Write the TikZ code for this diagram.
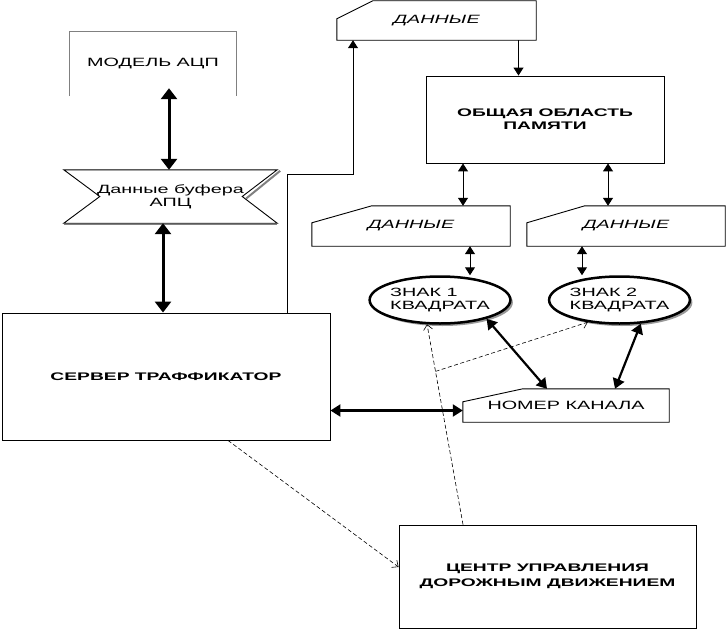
\documentclass[tikz,border=0pt]{standalone}
\usepackage{fontspec}
\setmainfont{Liberation Sans}
\newfontfamily\lblfont[FakeStretch=1.65]{Liberation Sans}
\newfontfamily\ttlfont[FakeStretch=1.75]{Liberation Sans Bold}
\usetikzlibrary{arrows.meta,shapes.geometric,shadows}
% outline of a data block with a cut corner
\newcommand\dataedge[3]{\draw[line width=0.9pt] (#1.south west) -- (#1.south east) -- (#1.north east)
  -- ([xshift=#2]#1.north west) -- ([yshift=-#3]#1.north west) -- cycle;}

\begin{document}
\begin{tikzpicture}[x=1pt, y=-1pt,  % сервер траффикатор
  lbl/.style={font=\lblfont\fontsize{12}{13}\selectfont, align=center, inner sep=0pt},
  dat/.style={lbl, font=\lblfont\itshape\fontsize{12}{13}\selectfont},
  ttl/.style={font=\ttlfont\fontsize{11}{13}\selectfont, align=center, inner sep=0pt, draw, line width=0.9pt},
  ell/.style={ellipse, draw, line width=2.5pt, fill=white, minimum width=122pt, minimum height=47pt,
    inner sep=0pt, align=left, font=\lblfont\fontsize{12}{13}\selectfont,
    drop shadow={shadow xshift=2.5pt, shadow yshift=-2.5pt, fill=gray, opacity=0.8}},
  bigarr/.style={line width=3pt, {Triangle[width=16pt,length=11pt]}-{Triangle[width=16pt,length=11pt]}},
  medarr/.style={line width=2.2pt, {Triangle[width=12pt,length=10pt]}-{Triangle[width=12pt,length=10pt]}},
  thinarr/.style={line width=1pt, -{Triangle[width=10pt,length=8pt]}},
  thinboth/.style={line width=1pt, {Triangle[width=10pt,length=8pt]}-{Triangle[width=10pt,length=8pt]}},
  dasharr/.style={line width=0.6pt, dash pattern=on 4pt off 2.5pt, -{Straight Barb[length=5pt,width=9pt]}}]
  \useasboundingbox (0,0) rectangle (726,629);

  \node[lbl, minimum width=166pt, minimum height=64pt] (model) at (153,64) {МОДЕЛЬ АЦП};
  \draw[gray, line width=0.8pt] (model.south west) -- (model.north west) -- (model.north east) -- (model.south east);

  \node[lbl, minimum width=213pt, minimum height=53pt] (buf) at (170.5,196.5) {Данные буфера\\АПЦ};
  \draw[gray, line width=2pt] ([xshift=-31pt,yshift=-2pt]buf.east) -- ([xshift=3pt,yshift=-1pt]buf.north east);
  \draw[gray, line width=1.2pt] ([yshift=-1.5pt]buf.south west) -- ([yshift=-1.5pt]buf.south east);
  \draw[line width=0.9pt] (buf.north west) -- (buf.north east) -- ([xshift=-35pt]buf.east) -- (buf.south east)
    -- (buf.south west) -- ([xshift=36pt]buf.west) -- cycle;

  \node[ttl, minimum width=328pt, minimum height=127pt] (srv) at (166,376.5) {СЕРВЕР ТРАФФИКАТОР};

  \node[dat, minimum width=199pt, minimum height=39pt] (dtop) at (436.5,20.5) {ДАННЫЕ};
  \dataedge{dtop}{36pt}{18pt}
  \node[ttl, minimum width=238pt, minimum height=87pt] (mem) at (545,119.5) {ОБЩАЯ ОБЛАСТЬ\\ПАМЯТИ};
  \node[dat, minimum width=198pt, minimum height=40pt] (dl) at (411,226) {ДАННЫЕ};
  \dataedge{dl}{60pt}{17pt}
  \node[dat, minimum width=198pt, minimum height=40pt] (dr) at (626,226) {ДАННЫЕ};
  \dataedge{dr}{58pt}{17pt}

  \node[ell] (e1) at (440,300) {ЗНАК 1\\КВАДРАТА};
  \node[ell] (e2) at (619.5,300) {ЗНАК 2\\КВАДРАТА};

  \node[lbl, minimum width=206pt, minimum height=33pt] (chan) at (566,405.5) {НОМЕР КАНАЛА};
  \dataedge{chan}{60pt}{13pt}

  \node[ttl, font=\ttlfont\fontsize{11}{15}\selectfont, minimum width=297pt, minimum height=103pt] (ctr)
    at (547.5,576.5) {ЦЕНТР УПРАВЛЕНИЯ\\ДОРОЖНЫМ ДВИЖЕНИЕМ};

  \draw[bigarr] ([xshift=16pt,yshift=8pt]model.south) -- ([xshift=-1.5pt]buf.north);
  \draw[bigarr] ([xshift=-7.5pt]buf.south) -- ([xshift=-3pt]srv.north);
  \draw[thinarr] ([xshift=121pt]srv.north) -- ++(0,-138) -| ([xshift=-83.5pt]dtop.south);
  \draw[thinarr] ([xshift=82pt]dtop.south) -- ([xshift=-26.5pt]mem.north);
  \draw[thinboth] ([xshift=-82pt]mem.south) -- ([xshift=52pt]dl.north);
  \draw[thinboth] ([xshift=63pt]mem.south) -- ([xshift=-18pt]dr.north);
  \draw[thinboth] ([xshift=59pt]dl.south) -- ([xshift=30pt]e1.north);
  \draw[thinboth] ([xshift=-44pt]dr.south) -- ([xshift=-37.5pt]e2.north);
  \draw[medarr] (e1.-22) -- ([xshift=-19pt]chan.north);
  \draw[medarr] (e2.-48) -- ([xshift=49pt]chan.north);
  \draw[medarr] ([yshift=-34pt]srv.east) -- ([yshift=-5pt]chan.west);

  \draw[dasharr] ([xshift=-84.5pt]ctr.north) -- coordinate[pos=0.765] (br) (e1.-118);
  \draw[dasharr] (br) -- (e2.-145);
  \draw[dasharr] ([xshift=62pt]srv.south) -- ([yshift=9.5pt]ctr.west);
\end{tikzpicture}
\end{document}
